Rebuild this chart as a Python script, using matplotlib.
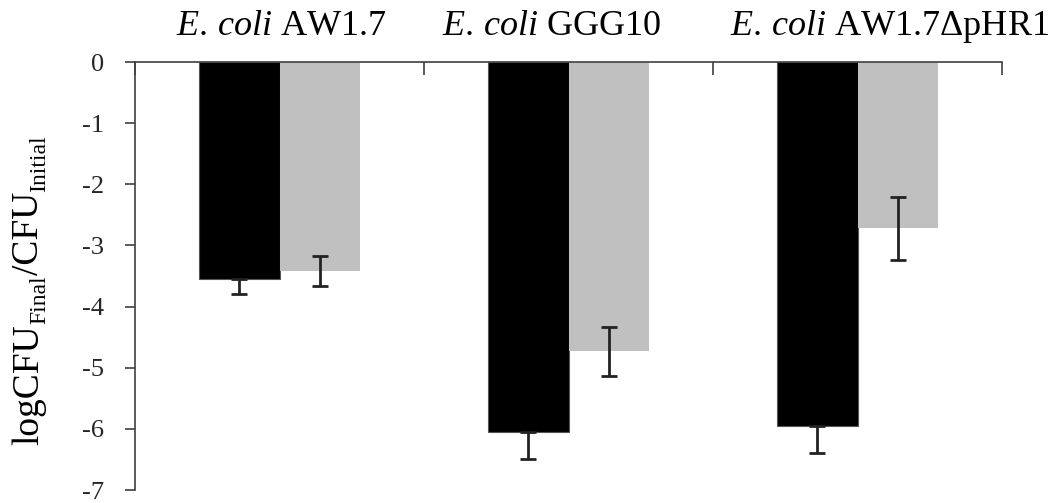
import matplotlib.pyplot as plt
import matplotlib.transforms as mtransforms
import numpy as np

plt.rcParams['font.family'] = ['Liberation Serif', 'DejaVu Serif']
plt.rcParams['mathtext.fontset'] = 'custom'
plt.rcParams['mathtext.rm'] = 'Liberation Serif'
plt.rcParams['mathtext.it'] = 'Liberation Serif:italic'

strains = ['AW1.7', 'GGG10', 'AW1.7ΔpHR1']
black_vals = [-3.55, -6.05, -5.95]
black_err = [0.25, 0.45, 0.45]
gray_vals = [-3.42, -4.73, -2.72]
gray_err = [0.24, 0.40, 0.52]
yticks = [0, -1, -2, -3, -4, -5, -6, -7]

# the strain titles are not quite centred over their groups in the original
title_shift = [0.005, -0.057, 0.112]

fig = plt.figure(figsize=(10.6, 5.03), dpi=100)
ax = fig.add_axes([0.1274, 0.0258, 0.8179, 0.8509])

x = np.arange(len(strains))
w = 0.28
errkw = dict(ecolor='#222222', elinewidth=2, capsize=6, capthick=2)
# black bars: only the lower half of the error bar shows
ax.bar(x - w / 2, black_vals, w, color='black', edgecolor='#555555', linewidth=0.8,
       yerr=[black_err, [0] * len(black_err)], error_kw=errkw)
ax.bar(x + w / 2, gray_vals, w, color='#c0c0c0', yerr=gray_err, error_kw=errkw)

ax.set_xlim(-0.5, len(strains) - 0.5)
ax.set_ylim(-7, 0)
ax.set_yticks(yticks)
ax.set_yticklabels([str(v) for v in yticks])

ax.spines['bottom'].set_visible(False)
ax.spines['right'].set_visible(False)
for s in ('top', 'left'):
    ax.spines[s].set_color('#404040')
    ax.spines[s].set_linewidth(1.2)

ax.xaxis.tick_top()
ax.set_xticks(np.arange(len(strains) + 1) - 0.5)
ax.set_xticklabels([])
ax.tick_params(axis='x', direction='in', length=9, width=1.2, color='#404040')
ax.tick_params(axis='y', direction='out', length=7, width=1.2, color='#404040',
               pad=15, labelsize=19, labelcolor='#262626')

trans = mtransforms.blended_transform_factory(ax.transData, ax.transAxes)
for xi, s, dx in zip(x, strains, title_shift):
    ax.text(xi + dx, 1.063, r'$\mathit{E.\,coli}$ ' + s, transform=trans,
            ha='center', va='baseline', fontsize=26, clip_on=False)

# y label built piece by piece so the subscripts can be smaller
pieces = [('logCFU', 27, 0), ('Final', 17, 7), ('/CFU', 27, 0), ('Initial', 17, 7)]
fig.canvas.draw()
r = fig.canvas.get_renderer()
texts = [fig.text(0, 0, s, fontsize=fs, rotation=90, rotation_mode='anchor',
                  ha='left', va='baseline', transform=None) for s, fs, _ in pieces]
lengths = [t.get_window_extent(r).height for t in texts]
base_x = 38
y = 290 + sum(lengths) / 2  # centre, pixel rows from top
y = fig.bbox.height - y
for t, L, (_, _, dx) in zip(texts, lengths, pieces):
    t.set_position((base_x + dx, y))
    y += L

fig.savefig('out.png', dpi=100)
